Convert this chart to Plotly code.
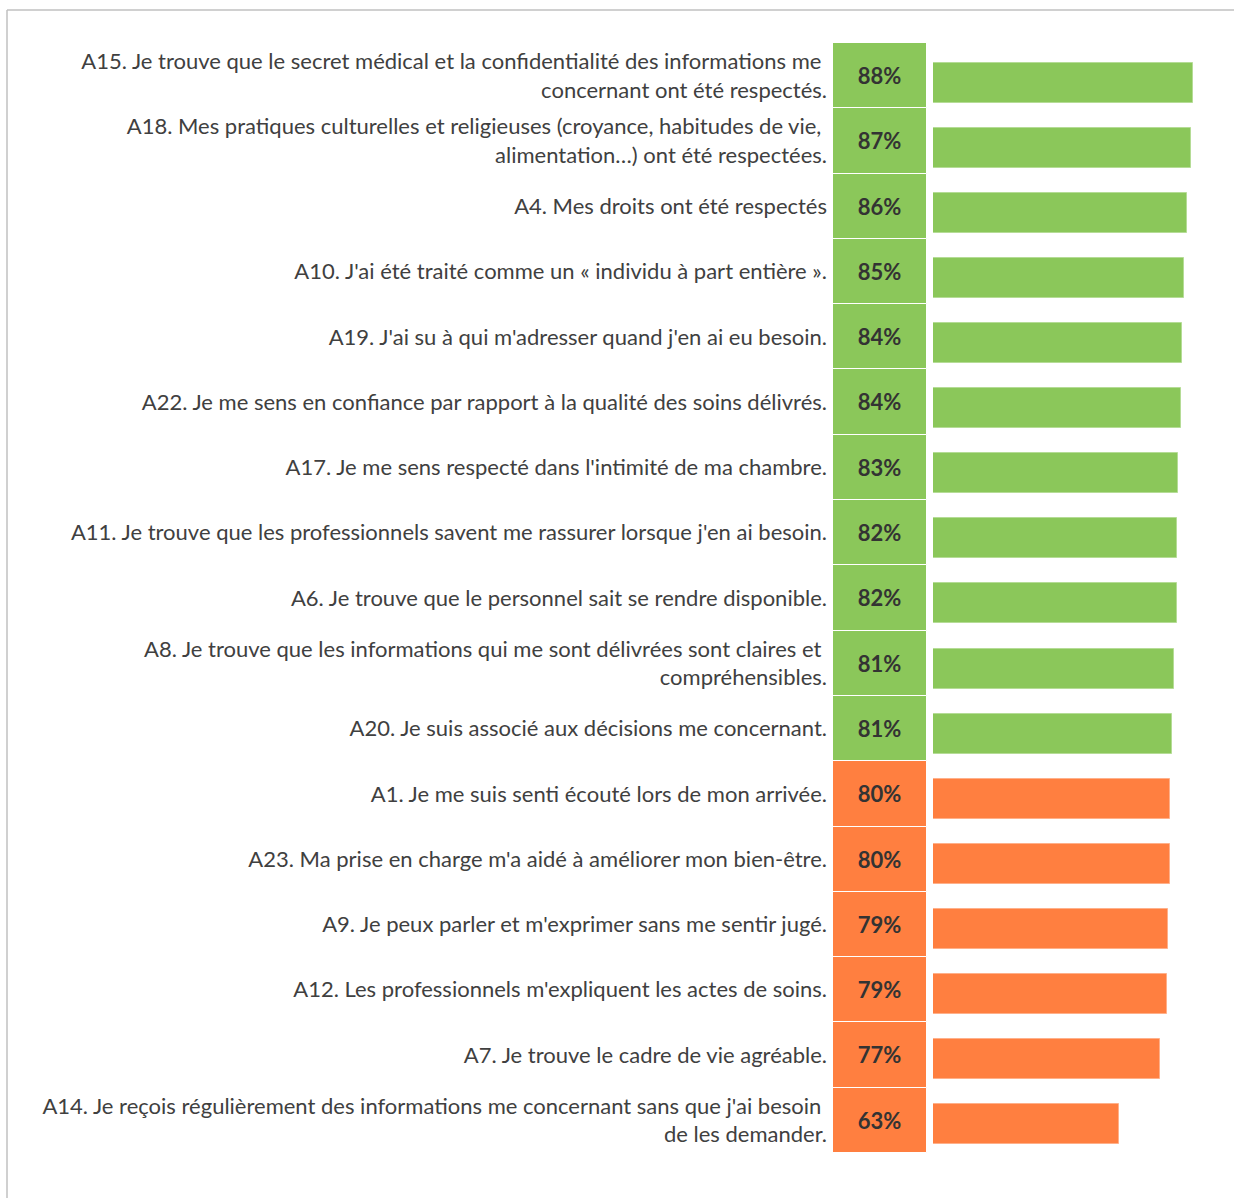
import plotly.graph_objects as go

labels = [
    "A15. Je trouve que le secret médical et la confidentialité des informations me <br>concernant ont été respectés.",
    "A18. Mes pratiques culturelles et religieuses (croyance, habitudes de vie, <br>alimentation…) ont été respectées.",
    "A4. Mes droits ont été respectés",
    "A10. J'ai été traité comme un « individu à part entière ».",
    "A19. J'ai su à qui m'adresser quand j'en ai eu besoin.",
    "A22. Je me sens en confiance par rapport à la qualité des soins délivrés.",
    "A17. Je me sens respecté dans l'intimité de ma chambre.",
    "A11. Je trouve que les professionnels savent me rassurer lorsque j'en ai besoin.",
    "A6. Je trouve que le personnel sait se rendre disponible.",
    "A8. Je trouve que les informations qui me sont délivrées sont claires et <br>compréhensibles.",
    "A20. Je suis associé aux décisions me concernant.",
    "A1. Je me suis senti écouté lors de mon arrivée.",
    "A23. Ma prise en charge m'a aidé à améliorer mon bien-être.",
    "A9. Je peux parler et m'exprimer sans me sentir jugé.",
    "A12. Les professionnels m'expliquent les actes de soins.",
    "A7. Je trouve le cadre de vie agréable.",
    "A14. Je reçois régulièrement des informations me concernant sans que j'ai besoin <br>de les demander.",
]
values = [87.8, 87.2, 85.8, 84.8, 84.1, 83.8, 82.8, 82.4, 82.4, 81.4, 80.7, 80.1, 80.1, 79.4, 79.1, 76.7, 62.8]
pct_labels = ["88%", "87%", "86%", "85%", "84%", "84%", "83%", "82%", "82%", "81%", "81%",
              "80%", "80%", "79%", "79%", "77%", "63%"]

GREEN = "#8BC75A"
ORANGE = "#FF7F40"
colors = [GREEN if int(p.rstrip("%")) > 80 else ORANGE for p in pct_labels]
edge = ["#B5DC96" if c == GREEN else "#FFB08A" for c in colors]

idx = list(range(len(labels)))
n = len(idx)

# pixel layout
W, H = 1234, 1198
ml, mr, mt, mb = 833, 5, 43, 45
pw = W - ml - mr
ph = H - mt - mb
cell_end = 94 / pw
bar_start = 100 / pw

# bar rows are laid out on their own slightly shifted scale
row_px = 65.06
first_center_px = 40
y2_top = -first_center_px / row_px
y2_bottom = y2_top + ph / row_px

FONT = "Lato, Open Sans, sans-serif"

fig = go.Figure()

fig.add_trace(go.Bar(
    x=[1] * n, y=idx, orientation="h", xaxis="x", yaxis="y",
    width=1.0,
    marker=dict(color=colors, line=dict(color="white", width=1)),
    text=pct_labels, textposition="inside", insidetextanchor="middle",
    textangle=0, constraintext="none",
    textfont=dict(family=FONT, size=22, color="#333333", weight="bold"),
    hoverinfo="skip", showlegend=False,
))

fig.add_trace(go.Bar(
    x=values, y=idx, orientation="h", xaxis="x2", yaxis="y2",
    width=40 / row_px,
    marker=dict(color=colors, line=dict(color=edge, width=1)),
    hoverinfo="skip", showlegend=False,
))

fig.update_layout(
    width=W, height=H,
    margin=dict(l=ml, r=mr, t=mt, b=mb, autoexpand=False),
    paper_bgcolor="white", plot_bgcolor="white",
    bargap=0,
    xaxis=dict(domain=[0, cell_end], range=[0, 1], visible=False, fixedrange=True),
    xaxis2=dict(domain=[bar_start, 1], range=[0, 100], visible=False, anchor="y", fixedrange=True),
    yaxis=dict(
        range=[n - 0.5, -0.5],
        tickmode="array", tickvals=idx, ticktext=labels,
        showgrid=False, zeroline=False, showline=False, ticks="",
        ticklabelstandoff=5,
        tickfont=dict(family=FONT, size=22, color="#404040"),
    ),
    yaxis2=dict(range=[y2_bottom, y2_top], overlaying="y", visible=False, fixedrange=True),
    shapes=[
        dict(type="line", xref="paper", yref="paper",
             x0=(7 - ml) / pw, x1=(W - ml) / pw, y0=1 + (mt - 10) / ph, y1=1 + (mt - 10) / ph,
             line=dict(color="#C0C0C0", width=1.5)),
        dict(type="line", xref="paper", yref="paper",
             x0=(7 - ml) / pw, x1=(7 - ml) / pw, y0=1 + (mt - 10) / ph, y1=-mb / ph,
             line=dict(color="#C0C0C0", width=1.5)),
    ],
)

fig.write_html("out.html")
